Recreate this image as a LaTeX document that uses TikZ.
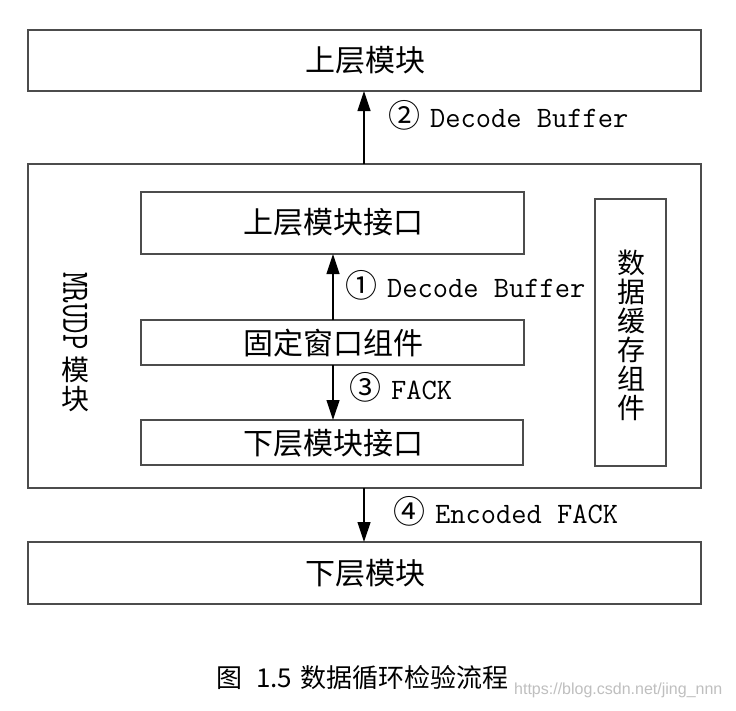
\documentclass[tikz,border=0pt]{standalone}
\usepackage{fontspec}
\usetikzlibrary{arrows.meta}
\newfontfamily\cjk{Noto Sans CJK SC}
\newfontfamily\wmfont{Liberation Sans}
\newcommand{\tightlines}{\lineskiplimit=-100pt\relax\lineskip=0pt\relax}
\newcommand{\mrudptext}{\raisebox{\depth}{\rotatebox{-90}{\scalebox{1}[1.3]{\ttfamily\fontsize{30}{30}\selectfont MRUDP}}}}
\newcommand{\circnum}[1]{{\cjk\fontsize{32}{32}\selectfont #1}}
\begin{document}
\begin{tikzpicture}[x=1pt,y=-1pt,
  box/.style={draw=black!70,line width=1.1pt},
  boxtext/.style={inner sep=0pt,font=\cjk\fontsize{30}{29}\selectfont},
  vtext/.style={inner sep=0pt,align=center,font=\cjk\fontsize{28}{29}\selectfont\tightlines},
  lbl/.style={inner sep=0pt,anchor=west,font=\ttfamily\fontsize{29.6}{30}\selectfont},
  arr/.style={line width=1.2pt,-{Triangle[length=20pt,width=13pt]}}]
\useasboundingbox[fill=white] (0,0) rectangle (736,710);
% boxes
\draw[box] (28,30) rectangle (701,91);
\node[boxtext] (top) at (365,60) {上层模块};
\draw[box] (28,164) rectangle (701,488);
\draw[box] (141,192) rectangle (524,254);
\node[boxtext] (upi) at (333,222) {上层模块接口};
\draw[box] (141,320) rectangle (524,365);
\node[boxtext] (win) at (333,343) {固定窗口组件};
\draw[box] (141,420) rectangle (523,465);
\node[boxtext] (lowi) at (333,443) {下层模块接口};
\draw[box] (595,199) rectangle (666,466);
\node[vtext] (cache) at (631,335) {数\\据\\缓\\存\\组\\件};
\draw[box] (28,542) rectangle (701,604);
\node[boxtext] (bot) at (365,573) {下层模块};
% MRUDP vertical label
\node[vtext,anchor=north] (mrudp) at (75,272)
  {\mrudptext\\[2pt]模\\块};
% arrows
\coordinate (a2s) at (364,164); \coordinate (a2e) at (364,91);
\draw[arr] (a2s) -- (a2e);
\coordinate (a1s) at (333,320); \coordinate (a1e) at (333,254);
\draw[arr] (a1s) -- (a1e);
\coordinate (a3s) at (333,365); \coordinate (a3e) at (333,420);
\draw[arr] (a3s) -- (a3e);
\coordinate (a4s) at (364,488); \coordinate (a4e) at (364,542);
\draw[arr] (a4s) -- (a4e);
% labels
\node[lbl] (l2) at (388,115) {\circnum{②}\hspace{10pt}Decode Buffer};
\node[lbl] (l1) at (345,285) {\circnum{①}\hspace{10pt}Decode Buffer};
\node[lbl] (l3) at (349,387) {\circnum{③}\hspace{10pt}FACK};
\node[lbl] (l4) at (393,511) {\circnum{④}\hspace{10pt}Encoded FACK};
% caption
\node[inner sep=0pt,anchor=west,font=\cjk\fontsize{26}{27}\selectfont] (cap) at (216,678) {图\hspace{14pt}1.5\hspace{8pt}数据循环检验流程};
\node[inner sep=0pt,anchor=west,text=black!25,font=\wmfont\fontsize{16}{18}\selectfont] (wm) at (514,690) {https://blog.csdn.net/jing\_nnn};
\end{tikzpicture}
\end{document}
